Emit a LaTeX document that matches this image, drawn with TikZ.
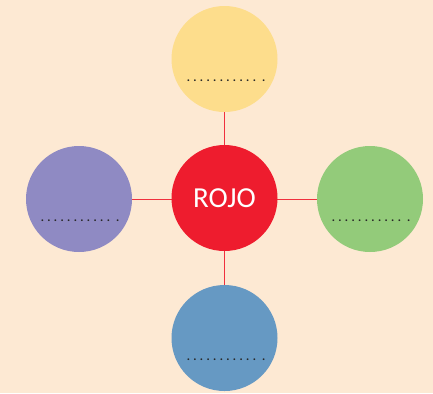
\documentclass[tikz,border=0pt]{standalone}
\usepackage{fontspec}
\setmainfont{Carlito}
\definecolor{bg}{HTML}{FDE9D3}
\definecolor{cred}{HTML}{EE1C2E}
\definecolor{cyellow}{HTML}{FDDD8C}
\definecolor{cpurple}{HTML}{8F8AC3}
\definecolor{cgreen}{HTML}{93CB7A}
\definecolor{cblue}{HTML}{6699C3}
\definecolor{lred}{HTML}{F0303E}
\newcommand{\dd}{.\kern3.4bp}
\newcommand{\dotrow}{\dd\dd\dd\dd\dd\dd\dd\dd\dd\dd.\kern6bp.}
\tikzset{
  bubble/.style={circle, minimum size=106bp, inner sep=0pt},
  dots/.style={font=\fontsize{12bp}{13bp}\selectfont\bfseries, text=black!85, inner sep=0pt, anchor=base},
  link/.style={draw=lred, line width=0.9bp}
}
\begin{document}
\begin{tikzpicture}[x=1bp,y=-1bp]
\fill[bg] (0,0) rectangle (433,393);
\useasboundingbox (0,0) rectangle (433,393);
\node[bubble, fill=cyellow] (top) at (224.5,59) {};
\node[bubble, fill=cpurple] (left) at (79,199) {};
\node[bubble, fill=cgreen] (right) at (370,199) {};
\node[bubble, fill=cblue] (bottom) at (224.5,338) {};
\draw[link] (top) -- (bottom);
\draw[link] (left) -- (right);
\node[bubble, fill=cred, text=white, font=\fontsize{29bp}{32bp}\selectfont] (center) at (224.5,198) {ROJO};
\node[dots] (t1) at (226,81.5) {\dotrow};
\node[dots] (t2) at (80,221.5) {\dotrow};
\node[dots] (t3) at (371,221.5) {\dotrow};
\node[dots] (t4) at (226,360.5) {\dotrow};
\end{tikzpicture}
\end{document}
